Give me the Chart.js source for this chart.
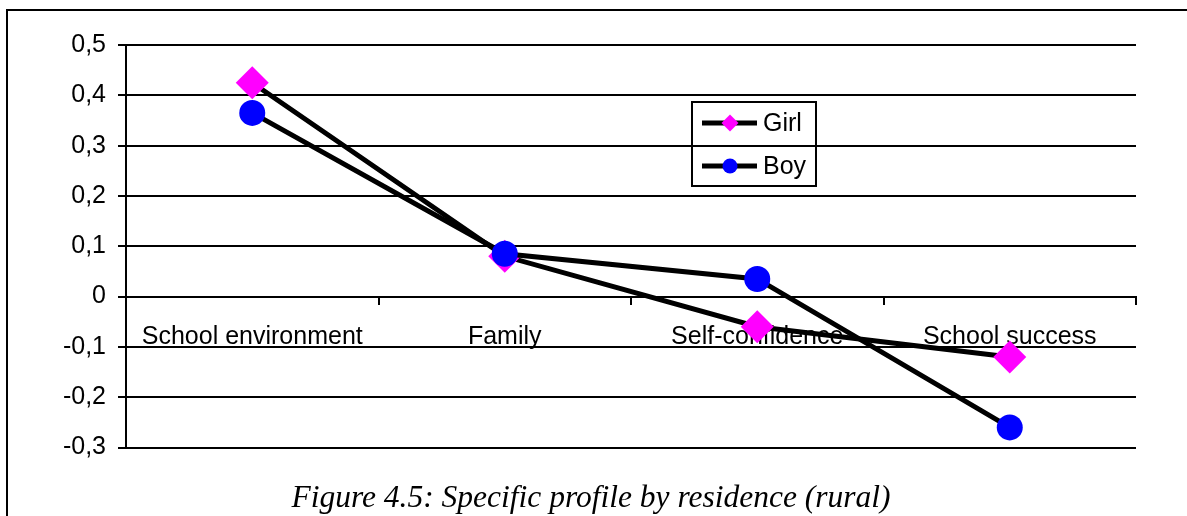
<!DOCTYPE html>
<html>
<head>
<meta charset="utf-8">
<script src="https://cdn.jsdelivr.net/npm/chart.js@4/dist/chart.umd.min.js"></script>
<style>
  html, body { margin: 0; padding: 0; background: #fff; }
  #wrap { position: relative; width: 1187px; height: 516px; }
  #frame {
    position: absolute; left: 6px; top: 9px; right: 0; bottom: 0;
    border-top: 2px solid #000; border-left: 2px solid #000;
  }
  canvas { position: absolute; left: 0; top: 0; }
  #caption {
    position: absolute; left: 0; width: 1182px; top: 481px;
    text-align: center; font: italic 31.5px/32px 'Liberation Serif', serif; color: #000;
  }
</style>
</head>
<body>
<div id="wrap">
  <div id="frame"></div>
  <canvas id="chart" width="1187" height="516"></canvas>
  <div id="caption"></div>
</div>
<script>
const categories = ["School environment", "Family", "Self-confidence", "School success"];
const girl = [0.425, 0.08, -0.06, -0.12];
const boy = [0.365, 0.085, 0.035, -0.26];
const caption = "Figure 4.5: Specific profile by residence (rural)";

const sans = "'Liberation Sans', Arial, sans-serif";
document.getElementById("caption").textContent = caption;

// legend box sitting inside the plot, like the original
const boxLegend = {
  id: "boxLegend",
  afterDraw(chart) {
    const ctx = chart.ctx;
    const ds = chart.data.datasets;
    ctx.save();
    ctx.strokeStyle = "#000";
    ctx.lineWidth = 2;
    ctx.strokeRect(692, 102, 124, 84);
    const rows = [123, 166];
    ds.forEach((d, i) => {
      const y = rows[i];
      ctx.beginPath();
      ctx.lineWidth = 5;
      ctx.moveTo(702, y);
      ctx.lineTo(757, y);
      ctx.stroke();
      ctx.fillStyle = d.pointBackgroundColor;
      ctx.beginPath();
      if (d.pointStyle === "rectRot") {
        const r = 8.5;
        ctx.moveTo(730 - r, y);
        ctx.lineTo(730, y - r);
        ctx.lineTo(730 + r, y);
        ctx.lineTo(730, y + r);
        ctx.closePath();
      } else {
        ctx.arc(730, y, 7.5, 0, Math.PI * 2);
      }
      ctx.fill();
      ctx.fillStyle = "#000";
      ctx.font = "25px " + sans;
      ctx.textBaseline = "middle";
      ctx.textAlign = "left";
      ctx.fillText(d.label, 763, y + 1);
    });
    ctx.restore();
  },
};

new Chart(document.getElementById("chart"), {
  type: "line",
  data: {
    labels: categories,
    datasets: [
      {
        label: "Girl",
        data: girl,
        order: 1,
        borderColor: "#000",
        borderWidth: 5,
        pointStyle: "rectRot",
        pointRadius: 16.5,
        pointBackgroundColor: "#FF00FF",
        pointBorderWidth: 0,
        tension: 0,
      },
      {
        label: "Boy",
        data: boy,
        order: 0,
        borderColor: "#000",
        borderWidth: 5,
        pointStyle: "circle",
        pointRadius: 13,
        pointBackgroundColor: "#0000FF",
        pointBorderWidth: 0,
        tension: 0,
      },
    ],
  },
  options: {
    responsive: false,
    animation: false,
    events: [],
    layout: { padding: { top: 45, right: 51, left: 0, bottom: 68.5 } },
    plugins: {
      legend: { display: false },
      tooltip: { enabled: false },
      title: { display: false },
    },
    scales: {
      x: {
        type: "category",
        position: { y: 0 },
        offset: true,
        grid: {
          offset: true,
          drawOnChartArea: false,
          drawTicks: true,
          tickLength: 7,
          color: "#000",
          lineWidth: 2,
        },
        border: { display: true, color: "#000", width: 2 },
        ticks: {
          color: "#000",
          font: { family: sans, size: 25 },
          padding: 19,
          maxRotation: 0,
          autoSkip: false,
        },
      },
      y: {
        min: -0.3,
        max: 0.5,
        afterFit(scale) { scale.width = 126; },
        grid: { color: "#000", lineWidth: 2, tickLength: 8 },
        border: { display: true, color: "#000", width: 2 },
        ticks: {
          stepSize: 0.1,
          color: "#000",
          padding: 12,
          font: { family: sans, size: 25 },
          callback: (v) => {
            const r = Math.round(v * 10) / 10;
            return r === 0 ? "0" : r.toFixed(1).replace(".", ",");
          },
        },
      },
    },
  },
  plugins: [boxLegend],
});
</script>
</body>
</html>
